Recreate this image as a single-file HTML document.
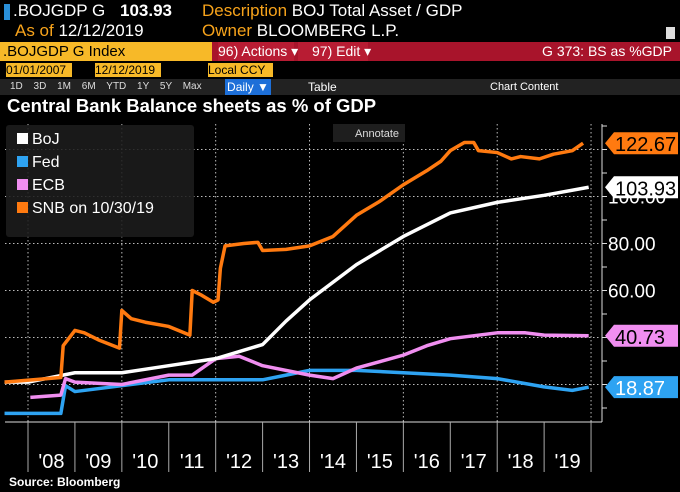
<!DOCTYPE html>
<html><head><meta charset="utf-8"><style>
body{margin:0;width:680px;height:492px;background:#000;overflow:hidden;font-family:"Liberation Sans Narrow","Liberation Sans",sans-serif;color:#fff;position:relative}
.a{position:absolute;white-space:nowrap}
.o{color:#f7a31b}
</style></head><body>
<div class="a" style="left:4px;top:4px;width:6px;height:16px;background:#2a8fd8"></div>
<div class="a" style="left:13px;top:1px;font-size:17px">.BOJGDP G</div>
<div class="a" style="left:120px;top:1px;font-size:17px;font-weight:bold">103.93</div>
<div class="a" style="left:202px;top:1px;font-size:17px"><span class="o">Description</span> BOJ Total Asset / GDP</div>
<div class="a" style="left:15px;top:21px;font-size:17px"><span class="o">As of</span> 12/12/2019</div>
<div class="a" style="left:202px;top:21px;font-size:17px"><span class="o">Owner</span> BLOOMBERG L.P.</div>
<div class="a" style="left:666px;top:27px;width:9px;height:12px;background:#ddd"></div>
<div class="a" style="left:0;top:42px;width:212px;height:19px;background:#f7b928;color:#000;font-size:15px;line-height:19px;padding-left:3px;box-sizing:border-box">.BOJGDP G Index</div>
<div class="a" style="left:212px;top:42px;width:468px;height:19px;background:#a8142b"></div>
<div class="a" style="left:218px;top:42px;width:76px;height:19px;font-size:14px;line-height:19px;background:#b81c33">96) Actions ▾</div>
<div class="a" style="left:298px;top:42px;width:70px;height:19px;font-size:14px;line-height:19px;background:#b81c33;padding-left:14px;box-sizing:border-box">97) Edit ▾</div>
<div class="a" style="right:8px;top:42px;font-size:14px;line-height:19px">G 373: BS as %GDP</div>
<div class="a" style="left:6px;top:63px;width:66px;height:14px;background:#f7b928;color:#000;font-size:12px;line-height:14px">01/01/2007</div>
<div class="a" style="left:95px;top:63px;width:66px;height:14px;background:#f7b928;color:#000;font-size:12px;line-height:14px">12/12/2019</div>
<div class="a" style="left:208px;top:63px;width:65px;height:14px;background:#f7b928;color:#000;font-size:12px;line-height:14px">Local CCY</div>
<div class="a" style="left:0;top:79px;width:680px;height:16px;background:#222"></div>
<div class="a" style="left:10px;top:79px;font-size:10px;line-height:16px;word-spacing:8px;color:#ddd">1D 3D 1M 6M YTD 1Y 5Y Max</div>
<div class="a" style="left:225px;top:79px;width:46px;height:16px;background:#1d6fd8;font-size:12px;line-height:16px;text-align:center">Daily ▼</div>
<div class="a" style="left:308px;top:79px;font-size:12px;line-height:16px">Table</div>
<div class="a" style="left:490px;top:79px;font-size:11px;line-height:16px">Chart Content</div>
<div class="a" style="left:7px;top:95px;font-family:'Liberation Sans',sans-serif;font-weight:bold;font-size:18.5px">Central Bank Balance sheets as % of GDP</div>
<svg class="a" style="left:0;top:0" width="680" height="492" id="ch"></svg>
<div class="a" style="left:9px;top:475px;font-family:'Liberation Sans',sans-serif;font-weight:bold;font-size:12px">Source: Bloomberg</div>
<script>
const years=['\'08','\'09','\'10','\'11','\'12','\'13','\'14','\'15','\'16','\'17','\'18','\'19'];
const yTicks=[60,80,100];
const bojT=[2007.5,2008,2009,2010,2011,2012,2013,2013.5,2014,2015,2016,2017,2018,2019,2019.95];
const bojV=[21,21,25,25,28,31,37,47,56,71,83,93,97.5,100.5,103.93];
const fedT=[2007.5,2008.7,2008.8,2009,2010,2011,2012,2013,2013.5,2014,2015,2016,2017,2018,2019,2019.6,2019.95];
const fedV=[7.7,7.7,19.5,17,19.5,22,22,22,24,26,26,25,24,22.5,19,17.5,18.87];
const ecbT=[2008.05,2008.7,2008.8,2009,2010,2011,2011.5,2012,2012.5,2013,2014,2014.5,2015,2016,2016.5,2017,2018,2018.6,2019,2019.95];
const ecbV=[14.5,15.5,22.5,21,20,24,24,31,32,28,24,22.5,27,32.5,36.5,39.5,42,42,41,40.73];
const snbT=[2007.5,2008.7,2008.75,2009,2009.2,2009.5,2009.95,2010,2010.2,2010.5,2011,2011.45,2011.5,2011.7,2011.95,2012.05,2012.1,2012.2,2012.6,2012.9,2013,2013.5,2014,2014.5,2015,2015.5,2016,2016.5,2016.8,2017,2017.3,2017.5,2017.6,2018,2018.3,2018.5,2018.9,2019.2,2019.6,2019.83];
const snbV=[21,23,36.5,43,42,39,35.5,51.5,48,46.5,44.7,41,60,58,55,56,69.4,79,80,80.5,77,77.5,79,83,92,98,105,111,115,119.5,123,123,119.5,118.7,116,117,116,118,119.5,122.67];
const X=t=>28+(t-2008)*46.92, Y=v=>431.5-v*2.35;
const svg=document.getElementById('ch'),NS='http://www.w3.org/2000/svg';
function mk(tag,at,parent){const e=document.createElementNS(NS,tag);for(const k in at)e.setAttribute(k,at[k]);(parent||svg).appendChild(e);return e;}
for(let y=2008;y<=2020;y+=2){const g=mk('line',{x1:X(y),x2:X(y),y1:124,y2:422,stroke:'#bbb','stroke-dasharray':'1.5,2.5','stroke-width':1});

}
[20,40,60,80,100,120].forEach(v=>{const g=mk('line',{x1:5,x2:600,y1:Y(v),y2:Y(v),stroke:'#bbb','stroke-dasharray':'1.5,2.5','stroke-width':1});

});
const lb=mk('rect',{x:6,y:125,width:188,height:112,rx:3,fill:'#1c1c1c','fill-opacity':0.88});


const legs=[['BoJ','#fff'],['Fed','#2ea3f2'],['ECB','#f08ef0'],['SNB on 10/30/19','#ff7a10']];
legs.forEach((l,i)=>{const r=mk('rect',{x:17,y:143+i*23-10,width:11,height:11,fill:l[1]});


const t=mk('text',{x:32,y:143+i*23+1,fill:'#fff','font-size':16,'font-family':'Liberation Sans, sans-serif'});t.textContent=l[0];

});
const an=mk('rect',{x:333,y:124,width:72,height:18,fill:'#1e1e1e'});


const at=mk('text',{x:355,y:137,fill:'#ddd','font-size':11,'font-family':'Liberation Sans, sans-serif'});at.textContent='Annotate';


const ax=mk('line',{x1:602,x2:602,y1:124,y2:422,stroke:'#ddd','stroke-width':1});


for(let v=0;v<=130;v+=10){if(Y(v)<124||Y(v)>422)continue;const t=mk('line',{x1:602,x2:607,y1:Y(v),y2:Y(v),stroke:'#ddd'});

}
yTicks.forEach(v=>{const t=mk('text',{x:608,y:Y(v)+7,fill:'#fff','font-size':19,'font-family':'Liberation Sans Narrow, Liberation Sans, sans-serif'});t.textContent=v.toFixed(2);

});
const xb=mk('line',{x1:5,x2:602,y1:422,y2:422,stroke:'#ddd'});


for(let i=0;i<=12;i++){const s=mk('line',{x1:X(2008+i),x2:X(2008+i),y1:422,y2:472,stroke:'#aaa'});

}
years.forEach((y,i)=>{const t=mk('text',{x:X(2008.5+i),y:468,fill:'#fff','font-size':20,'text-anchor':'middle','font-family':'Liberation Sans Narrow, Liberation Sans, sans-serif'});t.textContent=y;

});
function line(T,V,c,name,w){const p=mk('polyline',{points:T.map((t,i)=>X(t)+','+Y(V[i])).join(' '),fill:'none',stroke:c,'stroke-width':w,'stroke-linejoin':'round'});

}
line(fedT,fedV,'#2ea3f2','fed-line',3.5);
line(ecbT,ecbV,'#f08ef0','ecb-line',3.5);
line(bojT,bojV,'#fff','boj-line',3.5);
line(snbT,snbV,'#ff7a10','snb-line',3.5);
function tag(v,c,tc,name){const y=Y(v);const g=mk('polygon',{points:`605,${y} 614,${y-11} 678,${y-11} 678,${y+11} 614,${y+11}`,fill:c});


const t=mk('text',{x:615,y:y+8,fill:tc,'font-size':20,'font-family':'Liberation Sans Narrow, Liberation Sans, sans-serif'});t.textContent=v.toFixed(2);

}
tag(snbV[snbV.length-1],'#ff7a10','#000','snb-tag');
tag(bojV[bojV.length-1],'#fff','#000','boj-tag');
tag(ecbV[ecbV.length-1],'#f08ef0','#000','ecb-tag');
tag(fedV[fedV.length-1],'#2ea3f2','#fff','fed-tag');
</script>
</body></html>
